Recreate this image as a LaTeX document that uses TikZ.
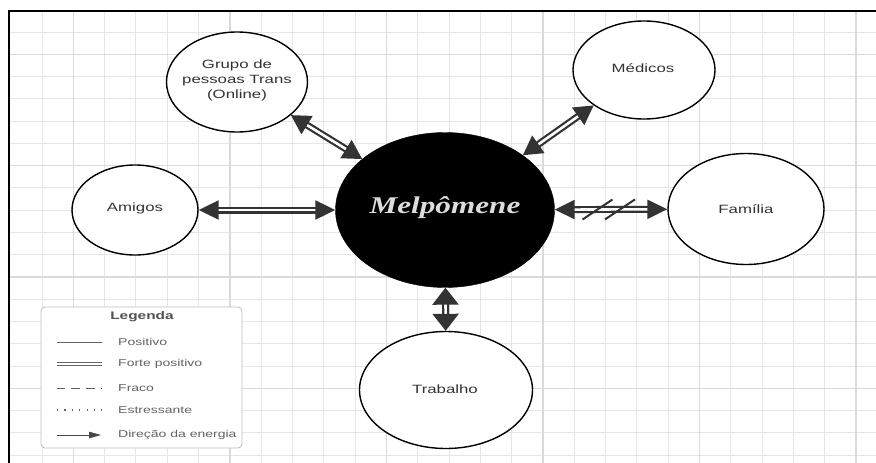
\documentclass[tikz,border=0pt]{standalone}
\usepackage{fontspec}
\usetikzlibrary{shapes.geometric,arrows.meta,calc}
\newfontfamily\labfont[FakeStretch=1.4]{Liberation Sans}
\newfontfamily\melfont[FakeStretch=1.3]{Liberation Serif}
\definecolor{gridminor}{HTML}{E6E6E6}
\definecolor{gridmajor}{HTML}{DADADA}
\definecolor{arrowgray}{HTML}{333333}
\definecolor{labgray}{HTML}{333333}
\definecolor{leggray}{HTML}{636363}
\definecolor{legborder}{HTML}{C0C0C0}
\definecolor{meltext}{HTML}{DCDCDC}
\begin{document}
\begin{tikzpicture}[x=1pt,y=-1pt,
  bubble/.style={ellipse, draw=black, line width=1.4pt, fill=white, inner sep=0pt},
  lab/.style={font=\labfont\fontsize{12}{15}\selectfont, text=labgray, align=center, inner sep=0pt},
  conn/.style={draw=arrowgray, line width=2.2pt, double=white, double distance=2.6pt},
  tiph/.style={{Triangle[length=20pt,width=19pt]}-{Triangle[length=20pt,width=19pt]}},
  tipv/.style={{Triangle[length=17pt,width=26pt]}-{Triangle[length=17pt,width=26pt]}},
  tipd/.style={{Triangle[length=19pt,width=21pt]}-{Triangle[length=19pt,width=21pt]}},
  slash/.style={draw=arrowgray, line width=2pt},
  legtext/.style={font=\labfont\fontsize{10}{12}\selectfont, text=leggray, anchor=west, inner sep=0pt},
  legline/.style={draw=leggray, line width=0.9pt},
  gridmin/.style={draw=gridminor, line width=0.9pt},
  gridmaj/.style={draw=gridmajor, line width=1.3pt}]
\useasboundingbox (0,0) rectangle (876,463);
\fill[white] (0,0) rectangle (876,463);
% grid
\foreach \k in {0,...,26} {\draw[gridmin] ({42+\k*31.31},11) -- ({42+\k*31.31},463);}
\foreach \k in {0,...,19} {\draw[gridmin] (9,{32+\k*22.27}) -- (876,{32+\k*22.27});}
\foreach \k in {1,6,11,16,21,26} {\draw[gridmaj] ({42+\k*31.31},11) -- ({42+\k*31.31},463);}
\foreach \k in {1,6,11,16} {\draw[gridmaj] (9,{32+\k*22.27}) -- (876,{32+\k*22.27});}
% frame
\draw[black, line width=1.6pt] (9,463) -- (9,11) -- (876,11);
% nodes
\node[bubble, minimum width=141pt, minimum height=100pt] (grupo) at (237,82) {};
\node[bubble, minimum width=142pt, minimum height=98pt] (medicos) at (644,70) {};
\node[bubble, minimum width=126pt, minimum height=90pt] (amigos) at (135,210) {};
\node[ellipse, draw=black, fill=black, inner sep=0pt, minimum width=219pt, minimum height=155pt] (melp) at (445,210) {};
\node[bubble, minimum width=156pt, minimum height=111pt] (familia) at (746,209) {};
\node[bubble, minimum width=173pt, minimum height=117pt] (trabalho) at (446,390) {};
% labels
\node[lab] (grupoT) at (237,80) {Grupo de\\pessoas Trans\\(Online)};
\node[lab] (medicosT) at (643,68) {Médicos};
\node[lab] (amigosT) at (135,208) {Amigos};
\node[lab] (familiaT) at (746,209) {Família};
\node[lab] (trabalhoT) at (445,389) {Trabalho};
\node[font=\melfont\fontsize{24}{28}\selectfont\bfseries\itshape, text=meltext, anchor=base, inner sep=0pt] (melpT) at (445,213) {Melpômene};
% connectors
\draw[conn, tiph] (amigos) -- (melp);
\draw[conn, tiph] (melp) -- (familia) coordinate[pos=0.38] (s1) coordinate[pos=0.58] (s2);
\draw[conn, tipv] (melp) -- (trabalho);
\draw[conn, tipd] (grupo) -- (melp);
\draw[conn, tipd] (medicos) -- (melp);
\draw[slash] ($(s1)+(-15,10)$) -- ($(s1)+(15,-10)$);
\draw[slash] ($(s2)+(-15,10)$) -- ($(s2)+(15,-10)$);
% legend
\node[draw=legborder, line width=0.9pt, rounded corners=4pt, fill=white, minimum width=201pt, minimum height=141pt] (legend) at (141.5,377.5) {};
\node[font=\labfont\fontsize{11}{13}\selectfont\bfseries, text=labgray!85, inner sep=0pt] (legT) at (142,317) {Legenda};
\draw[legline] (57,342) -- (102,342);
\node[legtext] (l1) at (118,342) {Positivo};
\draw[draw=leggray, line width=0.9pt, double=white, double distance=1.8pt] (57,364) -- (102,364);
\node[legtext] (l2) at (118,364) {Forte positivo};
\draw[legline, dash pattern=on 9pt off 6pt, dash phase=1pt] (57,388) -- (102,388);
\node[legtext] (l3) at (118,388) {Fraco};
\draw[legline, line width=1.1pt, dash pattern=on 1.2pt off 6.2pt] (57,410) -- (102,410);
\node[legtext] (l4) at (118,410) {Estressante};
\draw[draw=arrowgray!90, line width=0.9pt, -{Triangle[length=12pt,width=6.5pt]}] (57,435) -- (101,435);
\node[legtext] (l5) at (118,435) {Direção da energia};
\end{tikzpicture}
\end{document}
